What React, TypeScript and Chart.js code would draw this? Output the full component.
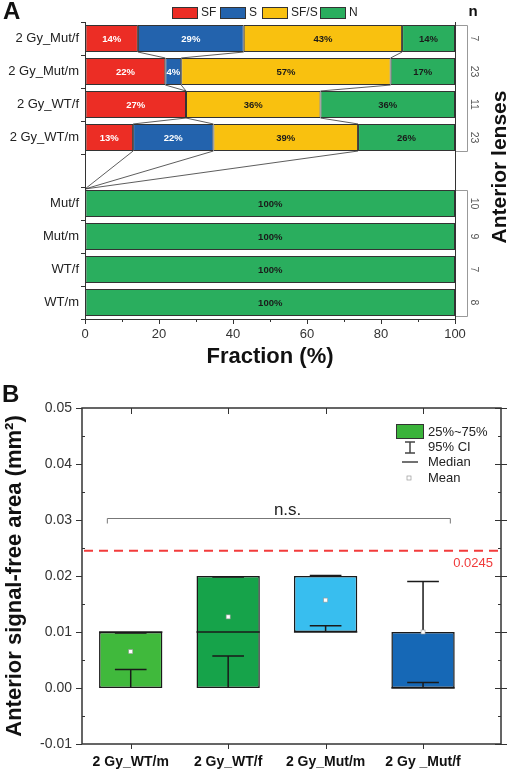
import React, { useEffect, useRef } from 'react';
import { Chart, registerables } from 'chart.js';

Chart.register(...registerables);
Chart.defaults.font.family = '"Liberation Sans", Arial, Helvetica, sans-serif';

// ---------- Panel A data ----------
const A_CATEGORIES = ['2 Gy_Mut/f', '2 Gy_Mut/m', '2 Gy_WT/f', '2 Gy_WT/m', '', 'Mut/f', 'Mut/m', 'WT/f', 'WT/m'];
const A_SERIES = ['SF', 'S', 'SF/S', 'N'];
const A_SF = [14.3, 21.7, 27.3, 13.0, null, 0, 0, 0, 0];
const A_S = [28.6, 4.3, 0, 21.7, null, 0, 0, 0, 0];
const A_SFS = [42.8, 56.6, 36.35, 39.1, null, 0, 0, 0, 0];
const A_N = [14.3, 17.4, 36.35, 26.2, null, 100, 100, 100, 100];
const A_COUNTS = [7, 23, 11, 23, null, 10, 9, 7, 8];
const A_COLORS = ['#EC2D25', '#2363AD', '#F9C10F', '#2AAE5E'];

// ---------- Panel B data ----------
const B_LABELS = ['2 Gy_WT/m', '2 Gy_WT/f', '2 Gy_Mut/m', '2 Gy _Mut/f'];
const B_POS = [1, 2, 3, 4];
const B_Q1 = [0, 0, 0.01, 0];
const B_Q3 = [0.01, 0.02, 0.02, 0.01];
const B_MEDIAN = [0.01, 0.01, 0.01, 0];
const B_MEAN = [0.0065, 0.0127, 0.0157, 0.01];
const B_CI_LOW = [0.0033, 0.0057, 0.0111, 0.001];
const B_CI_HIGH = [0.0098, 0.0198, 0.0201, 0.019];
const B_COLORS = ['#40B93C', '#16A34A', '#38BEEF', '#1668B6'];
const B_THRESHOLD = 0.0245;
const B_Y_TICKS = [-0.01, 0, 0.01, 0.02, 0.03, 0.04, 0.05];

const FONT = '"Liberation Sans", Arial, Helvetica, sans-serif';

const A_VALUES = [A_SF, A_S, A_SFS, A_N];

function cumAt(i: number): number[] {
  let c = 0;
  return [0, 1, 2].map((k) => (c += (A_VALUES[k][i] ?? 0) as number));
}

const panelAPlugin = {
  id: 'panelA',
  afterDatasetsDraw(chart: any) {
    const ctx = chart.ctx;
    const xs = chart.scales.x;
    const metas = [0, 1, 2, 3].map((d) => chart.getDatasetMeta(d));
    const el = (i: number) => metas[3].data[i];
    const top = (i: number) => el(i).y - el(i).height / 2;
    const bottom = (i: number) => el(i).y + el(i).height / 2;

    ctx.save();
    ctx.strokeStyle = '#333';
    ctx.lineWidth = 0.8;
    for (let i = 0; i < 3; i++) {
      const a = cumAt(i), b = cumAt(i + 1);
      for (let k = 0; k < 3; k++) {
        ctx.beginPath();
        ctx.moveTo(xs.getPixelForValue(a[k]), bottom(i));
        ctx.lineTo(xs.getPixelForValue(b[k]), top(i + 1));
        ctx.stroke();
      }
    }
    const last = cumAt(3);
    for (let k = 0; k < 3; k++) {
      ctx.beginPath();
      ctx.moveTo(xs.getPixelForValue(last[k]), bottom(3));
      ctx.lineTo(xs.getPixelForValue(0), top(5) - 1);
      ctx.stroke();
    }

    // value labels
    ctx.font = `bold 9.5px ${FONT}`;
    ctx.textAlign = 'center';
    ctx.textBaseline = 'middle';
    for (let d = 0; d < 4; d++) {
      ctx.fillStyle = d < 2 ? '#ffffff' : '#1a1a1a';
      A_VALUES[d].forEach((v, i) => {
        if (v && v > 0) {
          const e = metas[d].data[i];
          ctx.fillText(`${Math.round(v)}%`, (e.x + e.base) / 2, e.y + 0.5);
        }
      });
    }
    ctx.restore();
  },
  afterDraw(chart: any) {
    const ctx = chart.ctx;
    const ca = chart.chartArea;
    const xs = chart.scales.x;
    const meta = chart.getDatasetMeta(3);
    ctx.save();
    // right frame
    ctx.strokeStyle = '#333';
    ctx.lineWidth = 1;
    ctx.beginPath();
    ctx.moveTo(ca.right + 0.5, ca.top);
    ctx.lineTo(ca.right + 0.5, ca.bottom);
    ctx.stroke();
    // minor ticks
    [10, 30, 50, 70, 90].forEach((v) => {
      const x = Math.round(xs.getPixelForValue(v)) + 0.5;
      ctx.beginPath();
      ctx.moveTo(x, ca.bottom);
      ctx.lineTo(x, ca.bottom + 3);
      ctx.stroke();
    });

    // legend
    ctx.font = `12px ${FONT}`;
    ctx.textBaseline = 'middle';
    ctx.textAlign = 'left';
    const boxes = [172, 220, 262, 320];
    A_SERIES.forEach((s, i) => {
      ctx.fillStyle = A_COLORS[i];
      ctx.fillRect(boxes[i], 7, 25, 11);
      ctx.strokeStyle = '#333';
      ctx.strokeRect(boxes[i] + 0.5, 7.5, 25, 11);
      ctx.fillStyle = '#222';
      ctx.fillText(s, boxes[i] + 29, 13);
    });

    // n header
    ctx.font = `bold 15px ${FONT}`;
    ctx.textAlign = 'center';
    ctx.fillStyle = '#111';
    ctx.fillText('n', 473, 12);

    // brackets
    const top = (i: number) => meta.data[i].y - meta.data[i].height / 2;
    const bot = (i: number) => meta.data[i].y + meta.data[i].height / 2;
    ctx.strokeStyle = '#999';
    ctx.lineWidth = 1;
    [[0, 3], [5, 8]].forEach(([a, b]) => {
      const bx = ca.right + 12.5;
      ctx.beginPath();
      ctx.moveTo(ca.right + 1, Math.round(top(a)) + 0.5);
      ctx.lineTo(bx, Math.round(top(a)) + 0.5);
      ctx.lineTo(bx, Math.round(bot(b)) + 0.5);
      ctx.lineTo(ca.right + 1, Math.round(bot(b)) + 0.5);
      ctx.stroke();
    });

    // counts (rotated)
    ctx.font = `10.5px ${FONT}`;
    ctx.fillStyle = '#555';
    A_COUNTS.forEach((n, i) => {
      if (n == null) return;
      ctx.save();
      ctx.translate(474, meta.data[i].y);
      ctx.rotate(Math.PI / 2);
      ctx.textAlign = 'center';
      ctx.textBaseline = 'middle';
      ctx.fillText(String(n), 0, 0);
      ctx.restore();
    });

    // right title
    ctx.save();
    ctx.translate(500, 167);
    ctx.rotate(-Math.PI / 2);
    ctx.font = `bold 21px ${FONT}`;
    ctx.fillStyle = '#111';
    ctx.textAlign = 'center';
    ctx.textBaseline = 'middle';
    ctx.fillText('Anterior lenses', 0, 0);
    ctx.restore();

    // panel letter
    ctx.font = `bold 24px ${FONT}`;
    ctx.fillStyle = '#111';
    ctx.textAlign = 'left';
    ctx.textBaseline = 'top';
    ctx.fillText('A', 3, 0);
    ctx.restore();
  },
};

const panelBPlugin = {
  id: 'panelB',
  afterDatasetsDraw(chart: any) {
    const ctx = chart.ctx;
    const ys = chart.scales.y;
    const meta = chart.getDatasetMeta(0);
    ctx.save();
    ctx.strokeStyle = '#1a1a1a';
    ctx.lineWidth = 1.5;
    B_POS.forEach((p, i) => {
      const e = meta.data[i];
      const cx = e.x;
      const hw = e.width / 2;
      const cap = e.width / 4;
      // median
      ctx.beginPath();
      ctx.moveTo(cx - hw, ys.getPixelForValue(B_MEDIAN[i]));
      ctx.lineTo(cx + hw, ys.getPixelForValue(B_MEDIAN[i]));
      ctx.stroke();
      // whiskers (95% CI)
      const yq1 = ys.getPixelForValue(B_Q1[i]);
      const yq3 = ys.getPixelForValue(B_Q3[i]);
      const ylo = ys.getPixelForValue(B_CI_LOW[i]);
      const yhi = ys.getPixelForValue(B_CI_HIGH[i]);
      ctx.beginPath();
      ctx.moveTo(cx, yq1);
      ctx.lineTo(cx, ylo);
      ctx.moveTo(cx - cap, ylo);
      ctx.lineTo(cx + cap, ylo);
      ctx.moveTo(cx, yq3);
      ctx.lineTo(cx, yhi);
      ctx.moveTo(cx - cap, yhi);
      ctx.lineTo(cx + cap, yhi);
      ctx.stroke();
      // mean
      const ym = ys.getPixelForValue(B_MEAN[i]);
      ctx.fillStyle = '#ffffff';
      ctx.fillRect(cx - 2, ym - 2, 4, 4);
      ctx.lineWidth = 0.6;
      ctx.strokeStyle = '#999';
      ctx.strokeRect(cx - 2, ym - 2, 4, 4);
      ctx.lineWidth = 1.5;
      ctx.strokeStyle = '#1a1a1a';
    });
    ctx.restore();
  },
  afterDraw(chart: any) {
    const ctx = chart.ctx;
    const ca = chart.chartArea;
    const ys = chart.scales.y;
    const xs = chart.scales.x;
    ctx.save();
    // frame
    ctx.strokeStyle = '#333';
    ctx.lineWidth = 1.5;
    ctx.strokeRect(ca.left, ca.top, ca.right - ca.left, ca.bottom - ca.top);
    ctx.lineWidth = 1;
    // y ticks
    B_Y_TICKS.forEach((v, idx) => {
      const y = Math.round(ys.getPixelForValue(v)) + 0.5;
      ctx.beginPath();
      ctx.moveTo(ca.left - 6, y);
      ctx.lineTo(ca.left, y);
      ctx.moveTo(ca.right - 6, y);
      ctx.lineTo(ca.right + 6, y);
      ctx.stroke();
      if (idx < B_Y_TICKS.length - 1) {
        const ym = Math.round(ys.getPixelForValue(v + 0.005)) + 0.5;
        ctx.beginPath();
        ctx.moveTo(ca.left, ym);
        ctx.lineTo(ca.left + 3, ym);
        ctx.moveTo(ca.right - 3, ym);
        ctx.lineTo(ca.right, ym);
        ctx.stroke();
      }
    });
    // x ticks
    B_POS.forEach((p) => {
      const x = Math.round(xs.getPixelForValue(p)) + 0.5;
      ctx.beginPath();
      ctx.moveTo(x, ca.top);
      ctx.lineTo(x, ca.top + 6);
      ctx.moveTo(x, ca.bottom);
      ctx.lineTo(x, ca.bottom + 5);
      ctx.stroke();
    });

    // threshold
    const yt = ys.getPixelForValue(B_THRESHOLD);
    ctx.strokeStyle = '#F23B3B';
    ctx.lineWidth = 2;
    ctx.setLineDash([9, 6]);
    ctx.beginPath();
    ctx.moveTo(ca.left + 2, yt);
    ctx.lineTo(ca.right - 1, yt);
    ctx.stroke();
    ctx.setLineDash([]);
    ctx.fillStyle = '#F03A3A';
    ctx.font = `13px ${FONT}`;
    ctx.textAlign = 'right';
    ctx.textBaseline = 'middle';
    ctx.fillText(String(B_THRESHOLD), ca.right - 8, yt + 13);

    // n.s. bracket
    const yb = Math.round(ys.getPixelForValue(0.0303)) + 0.5;
    const x1 = xs.getPixelForValue(0.76);
    const x2 = xs.getPixelForValue(4.28);
    ctx.strokeStyle = '#777';
    ctx.lineWidth = 1;
    ctx.beginPath();
    ctx.moveTo(x1, yb + 5);
    ctx.lineTo(x1, yb);
    ctx.lineTo(x2, yb);
    ctx.lineTo(x2, yb + 5);
    ctx.stroke();
    ctx.fillStyle = '#222';
    ctx.font = `17px ${FONT}`;
    ctx.textAlign = 'center';
    ctx.textBaseline = 'alphabetic';
    ctx.fillText('n.s.', xs.getPixelForValue(2.61), yb - 4);

    // legend
    ctx.fillStyle = '#3BB33B';
    ctx.fillRect(396, 44, 27, 14);
    ctx.strokeStyle = '#333';
    ctx.lineWidth = 1;
    ctx.strokeRect(396.5, 44.5, 27, 14);
    ctx.strokeStyle = '#444';
    ctx.lineWidth = 1.5;
    ctx.beginPath();
    ctx.moveTo(405, 62); ctx.lineTo(415, 62);
    ctx.moveTo(410, 62); ctx.lineTo(410, 73);
    ctx.moveTo(405, 73); ctx.lineTo(415, 73);
    ctx.moveTo(402, 82); ctx.lineTo(418, 82);
    ctx.stroke();
    ctx.fillStyle = '#fff';
    ctx.fillRect(407, 96, 4, 4);
    ctx.strokeStyle = '#999';
    ctx.lineWidth = 0.7;
    ctx.strokeRect(407, 96, 4, 4);
    ctx.fillStyle = '#222';
    ctx.font = `13px ${FONT}`;
    ctx.textAlign = 'left';
    ctx.textBaseline = 'middle';
    ctx.fillText('25%~75%', 428, 52);
    ctx.fillText('95% CI', 428, 67);
    ctx.fillText('Median', 428, 82);
    ctx.fillText('Mean', 428, 98);

    // panel letter
    ctx.font = `bold 24px ${FONT}`;
    ctx.fillStyle = '#111';
    ctx.textBaseline = 'top';
    ctx.fillText('B', 2, 3);
    ctx.restore();
  },
};

function makeConfigA(): any {
  return {
    type: 'bar',
    data: {
      labels: A_CATEGORIES,
      datasets: A_SERIES.map((name, d) => ({
        label: name,
        data: A_VALUES[d].map((v) => (v ? v : null)),
        backgroundColor: A_COLORS[d],
        borderColor: '#333',
        borderWidth: 1,
        borderSkipped: false,
        barPercentage: 0.82,
        categoryPercentage: 1,
      })),
    },
    options: {
      indexAxis: 'y',
      responsive: false,
      animation: false,
      layout: { padding: { top: 22, right: 55, left: 0, bottom: 0 } },
      plugins: { legend: { display: false }, tooltip: { enabled: false } },
      scales: {
        y: {
          type: 'category',
          stacked: true,
          grid: { drawOnChartArea: false, tickLength: 4, color: '#333', offset: true },
          border: { color: '#333', width: 1 },
          ticks: { font: { size: 13 }, color: '#222', padding: 2 },
          afterFit: (s: any) => { s.width = 85; },
        },
        x: {
          type: 'linear',
          stacked: true,
          min: 0,
          max: 100,
          ticks: { stepSize: 20, font: { size: 13 }, color: '#333', padding: 3 },
          grid: { drawOnChartArea: false, tickLength: 5, color: '#333' },
          border: { color: '#333', width: 1 },
          title: { display: true, text: 'Fraction (%)', font: { size: 22, weight: 'bold' }, color: '#111', padding: { top: 0, bottom: 10 } },
          afterFit: (s: any) => { s.height = 61; },
        },
      },
    },
    plugins: [panelAPlugin],
  };
}

function makeConfigB(): any {
  return {
    type: 'bar',
    data: {
      datasets: [{
        label: 'box',
        data: B_POS.map((x, i) => ({ x, y: [B_Q1[i], B_Q3[i]] })),
        backgroundColor: B_COLORS,
        borderColor: '#1a1a1a',
        borderWidth: 1.5,
        borderSkipped: false,
        barPercentage: 0.65,
        categoryPercentage: 1,
      }],
    },
    options: {
      responsive: false,
      animation: false,
      layout: { padding: { top: 28, right: 9, left: 0, bottom: 0 } },
      plugins: { legend: { display: false }, tooltip: { enabled: false } },
      scales: {
        x: {
          type: 'linear',
          min: 0.5,
          max: 4.8,
          offset: false,
          grid: { display: false, drawTicks: false, offset: false },
          border: { display: false },
          afterBuildTicks: (s: any) => { s.ticks = B_POS.map((v) => ({ value: v })); },
          ticks: {
            font: { size: 14, weight: 'bold' },
            color: '#111',
            padding: 10,
            autoSkip: false,
            maxRotation: 0,
            callback: (v: any) => B_LABELS[B_POS.indexOf(Number(v))] ?? '',
          },
          afterFit: (s: any) => { s.height = 28; },
        },
        y: {
          type: 'linear',
          min: -0.01,
          max: 0.05,
          grid: { display: false, drawTicks: false },
          border: { display: false },
          afterBuildTicks: (s: any) => { s.ticks = B_Y_TICKS.map((v) => ({ value: v })); },
          ticks: {
            font: { size: 14 },
            color: '#333',
            padding: 10,
            callback: (v: any) => Number(v).toFixed(2),
          },
          title: {
            display: true,
            text: 'Anterior signal-free area (mm²)',
            font: { size: 22, weight: 'bold' },
            color: '#111',
            padding: { top: 2, bottom: 0 },
          },
          afterFit: (s: any) => { s.width = 82; },
        },
      },
    },
    plugins: [panelBPlugin],
  };
}

export default function App() {
  const refA = useRef<HTMLCanvasElement>(null);
  const refB = useRef<HTMLCanvasElement>(null);
  useEffect(() => {
    const a = new Chart(refA.current as HTMLCanvasElement, makeConfigA());
    const b = new Chart(refB.current as HTMLCanvasElement, makeConfigB());
    return () => {
      a.destroy();
      b.destroy();
    };
  }, []);
  return (
    <div style={{ position: 'absolute', left: 0, top: 0, width: 510, height: 772, background: '#fff' }}>
      <canvas ref={refA} width={510} height={380} style={{ position: 'absolute', left: 0, top: 0, width: 510, height: 380 }} />
      <canvas ref={refB} width={510} height={392} style={{ position: 'absolute', left: 0, top: 380, width: 510, height: 392 }} />
    </div>
  );
}
